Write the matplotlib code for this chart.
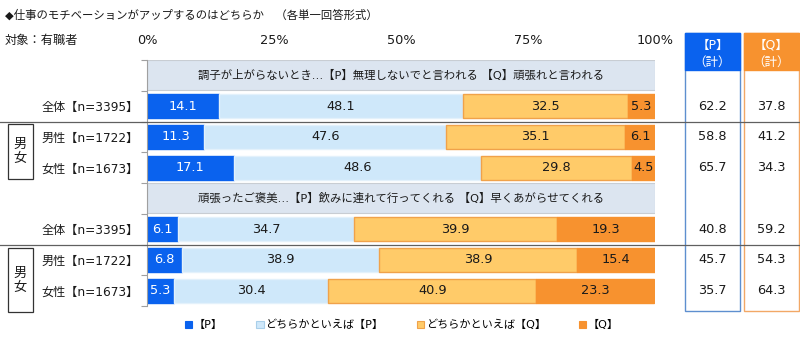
import matplotlib.pyplot as plt
import matplotlib.transforms as mtransforms
from matplotlib.patches import Patch, Rectangle
from matplotlib.lines import Line2D

# Latin glyphs from DejaVu, Japanese falls through to Noto CJK
plt.rcParams['font.family'] = ['DejaVu Sans', 'Noto Sans CJK JP']

# -----------------------------------
# Data
# -----------------------------------
title = "◆仕事のモチベーションがアップするのはどちらか　（各単一回答形式）"
subtitle = "対象：有職者"
groups = ["全体【n=3395】", "男性【n=1722】", "女性【n=1673】"]
questions = [
    "調子が上がらないとき…【P】無理しないでと言われる 【Q】頑張れと言われる",
    "頑張ったご褒美…【P】飲みに連れて行ってくれる 【Q】早くあがらせてくれる",
]
series_names = ["【P】", "どちらかといえば【P】", "どちらかといえば【Q】", "【Q】"]

q1_p = [14.1, 11.3, 17.1]
q1_lean_p = [48.1, 47.6, 48.6]
q1_lean_q = [32.5, 35.1, 29.8]
q1_q = [5.3, 6.1, 4.5]

q2_p = [6.1, 6.8, 5.3]
q2_lean_p = [34.7, 38.9, 30.4]
q2_lean_q = [39.9, 38.9, 40.9]
q2_q = [19.3, 15.4, 23.3]

p_total = [62.2, 58.8, 65.7, 40.8, 45.7, 35.7]
q_total = [37.8, 41.2, 34.3, 59.2, 54.3, 64.3]

xticks = [0, 25, 50, 75, 100]
xtick_labels = ["0%", "25%", "50%", "75%", "100%"]

# -----------------------------------
# Style
# -----------------------------------
colors = ["#0A62EE", "#CFE8FA", "#FFCB69", "#F7922F"]
edges = ["#0A62EE", "#E3F1FB", "#F0A24A", "#F7922F"]
text_colors = ["white", "#1A1A1A", "#1A1A1A", "#1A1A1A"]
header_color = "#DCE5F0"
W, H = 800, 339

fig = plt.figure(figsize=(W / 100, H / 100), dpi=100)
ax = fig.add_axes([147 / W, 1 - 306 / H, 508 / W, 246 / H])

# slot layout: header, 3 rows, header, 3 rows
header_slots = [0, 4]
row_slots = [[1, 2, 3], [5, 6, 7]]
blocks = [
    [q1_p, q1_lean_p, q1_lean_q, q1_q],
    [q2_p, q2_lean_p, q2_lean_q, q2_q],
]

for hs, text in zip(header_slots, questions):
    ax.barh(hs, 100, height=0.97, color=header_color, edgecolor="#C8CDD3", linewidth=0.8)
    ax.text(50, hs, text, ha="center", va="center", fontsize=8.2, color="#1A1A1A")

for slots, series in zip(row_slots, blocks):
    left = [0.0] * len(slots)
    for k, vals in enumerate(series):
        ax.barh(slots, vals, left=left, height=0.78, color=colors[k],
                edgecolor=edges[k], linewidth=1)
        for s, l, v in zip(slots, left, vals):
            ax.text(l + v / 2, s, f"{v:.1f}", ha="center", va="center",
                    fontsize=9.3, color=text_colors[k])
        left = [l + v for l, v in zip(left, vals)]

ax.set_xlim(0, 100)
ax.set_ylim(7.5, -0.5)

# top percentage axis
ax.xaxis.tick_top()
ax.set_xticks(xticks)
ax.set_xticklabels(xtick_labels, fontsize=9.3, color="#1A1A1A")
ax.tick_params(axis="x", length=0, pad=9)

# left category labels and boundary ticks
all_slots = [s for slots in row_slots for s in slots]
ax.set_yticks(all_slots)
ax.set_yticklabels(groups * 2, fontsize=8.7, color="#1A1A1A")
ax.tick_params(axis="y", which="major", length=0, pad=6)
ax.set_yticks([i + 0.5 for i in range(-1, 8)], minor=True)
ax.tick_params(axis="y", which="minor", length=4, color="#A0A0A0", width=0.8)

for side in ["top", "right", "bottom"]:
    ax.spines[side].set_visible(False)
ax.spines["left"].set_color("#A0A0A0")

# separator lines between 全体 and gender rows
blend = mtransforms.blended_transform_factory(fig.transFigure, ax.transData)
for y in [1.5, 5.5]:
    fig.add_artist(Line2D([0, 1], [y, y], transform=blend, color="#606060",
                          linewidth=0.9))

# 男女 boxes
for top_px, bot_px in [(124, 179), (248, 312)]:
    fig.add_artist(Rectangle((8 / W, 1 - bot_px / H), 25 / W, (bot_px - top_px) / H,
                             transform=fig.transFigure, fill=False,
                             edgecolor="#333333", linewidth=0.9))
    fig.text(20.5 / W, 1 - (top_px + bot_px) / 2 / H, "男\n女", ha="center",
             va="center", fontsize=9.5, linespacing=1.1, color="#1A1A1A")

# total columns on the right
columns = [
    (685, 740, "#0A62EE", "#5E8FCF", "【P】", p_total),
    (744, 799, "#F7922F", "#F2A866", "【Q】", q_total),
]
for x0, x1, fill, border, label, totals in columns:
    fig.add_artist(Rectangle((x0 / W, 1 - 311 / H), (x1 - x0) / W, (311 - 33) / H,
                             transform=fig.transFigure, fill=False,
                             edgecolor=border, linewidth=1))
    fig.add_artist(Rectangle((x0 / W, 1 - 70 / H), (x1 - x0) / W, 37 / H,
                             transform=fig.transFigure, facecolor=fill,
                             edgecolor=fill, linewidth=1))
    xc = (x0 + x1) / 2 / W
    fig.text(xc, 1 - 45 / H, label, ha="center", va="center", fontsize=9, color="white")
    fig.text(xc, 1 - 62 / H, "（計）", ha="center", va="center", fontsize=9, color="white")
    for s, v in zip(all_slots, totals):
        ax.text(xc, s, f"{v:.1f}", transform=blend, ha="center", va="center",
                fontsize=9.3, color="#1A1A1A")

# titles
fig.text(5 / W, 1 - 15 / H, title, ha="left", va="center", fontsize=8.2, color="#1A1A1A")
fig.text(5 / W, 1 - 40 / H, subtitle, ha="left", va="center", fontsize=8.8, color="#1A1A1A")

# legend
handles = [Patch(facecolor=c, edgecolor=e, linewidth=0.8) for c, e in
           zip(colors, ["#0A62EE", "#A9CFEA", "#F0A24A", "#F7922F"])]
fig.legend(handles, series_names, loc="center", bbox_to_anchor=(402 / W, 1 - 325 / H),
           ncol=4, frameon=False, fontsize=8, handlelength=0.65, handleheight=0.65,
           handletextpad=0.15, columnspacing=3.0)

fig.savefig("out.png", dpi=100)
